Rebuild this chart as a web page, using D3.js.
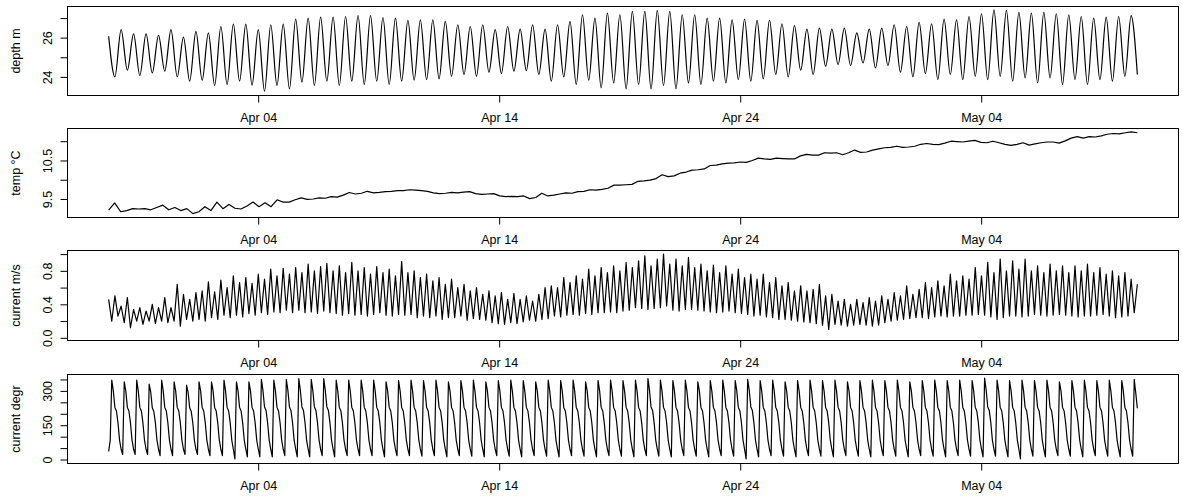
<!DOCTYPE html>
<html><head><meta charset="utf-8">
<script src="https://cdn.jsdelivr.net/npm/d3@7"></script>
<style>
body{margin:0;background:#fff}
svg{display:block}
text{font-family:"Liberation Sans",Arial,sans-serif}
</style>
</head><body>
<svg id="c" width="1182" height="497"></svg>
<script>
// ---------------- DATA ----------------
const dataStart = "2010-03-28T19:06:00Z";
const dataEnd   = "2010-05-10T11:30:00Z";
const xTickDates = ["2010-04-04","2010-04-14","2010-04-24","2010-05-04"];
const panelTitles = ["depth m","temp \u00B0C","current m/s","current degr"];

// depth: first value, then alternating low / high water (every ~6.2 h)
const depthFirst = 26.07;
const depthLow = [24.0,24.34,24.07,24.2,24.29,24.0,23.78,23.83,23.56,23.61,23.78,23.58,23.27,23.56,23.39,23.73,23.56,23.78,23.56,23.78,23.61,23.78,
 23.61,23.78,23.83,23.86,23.9,24.03,24.12,24.03,24.24,24.17,24.29,24.32,24.12,23.78,24.0,23.61,23.83,23.44,23.69,23.39,23.61,23.39,23.56,23.39,23.69,23.61,23.78,23.69,23.86,23.78,23.9,
 24.12,24.0,24.34,24.12,24.54,24.63,24.58,24.71,24.46,24.58,24.24,24.0,24.17,23.86,24.12,23.86,24.03,23.86,24.03,23.78,23.95,23.69,23.95,23.61,23.86,23.61,23.86,23.78,24.03,24.12];
const depthHigh = [26.41,26.19,26.19,26.12,26.41,26.03,26.32,26.24,26.57,26.69,26.69,26.41,26.66,26.69,26.95,27.0,27.05,27.05,27.08,27.13,27.12,27.03,
 27.0,26.88,26.91,26.91,26.83,26.66,26.57,26.66,26.41,26.57,26.44,26.66,26.44,26.66,26.83,27.17,27.0,27.25,27.17,27.34,27.34,27.39,27.34,27.17,27.17,27.0,27.0,26.91,26.95,26.88,26.9,
 26.71,26.61,26.44,26.49,26.44,26.49,26.24,26.44,26.49,26.66,26.57,26.78,26.71,26.95,26.91,27.08,27.22,27.42,27.39,27.29,27.25,27.29,27.22,27.17,27.08,27.0,27.05,27.08,27.12];

// temperature every 6 h
const tempValues = [9.21,9.40,9.17,9.2,9.25,9.24,9.25,9.22,9.28,9.34,9.22,9.28,9.2,9.25,9.12,9.17,9.3,9.2,9.42,9.25,
 9.36,9.26,9.24,9.32,9.42,9.3,9.4,9.3,9.48,9.42,9.42,9.48,9.53,9.49,9.5,9.53,9.52,9.56,9.55,9.6,
 9.67,9.63,9.65,9.7,9.66,9.67,9.69,9.7,9.72,9.72,9.74,9.73,9.72,9.7,9.66,9.64,9.65,9.67,9.66,9.68,
 9.69,9.64,9.62,9.63,9.64,9.58,9.56,9.57,9.56,9.58,9.51,9.54,9.65,9.58,9.6,9.63,9.66,9.65,9.69,9.7,
 9.74,9.73,9.75,9.78,9.86,9.86,9.87,9.88,9.96,9.97,9.99,10.03,10.13,10.08,10.1,10.17,10.2,10.25,10.26,10.28,
 10.37,10.38,10.41,10.43,10.44,10.46,10.45,10.5,10.56,10.54,10.53,10.56,10.55,10.54,10.54,10.62,10.66,10.64,10.64,10.7,
 10.69,10.7,10.65,10.7,10.77,10.71,10.72,10.77,10.8,10.83,10.84,10.87,10.84,10.85,10.87,10.92,10.94,10.92,10.91,10.95,
 11.0,10.99,10.98,11.0,11.02,10.97,10.96,11.0,10.96,10.92,10.89,10.92,10.96,10.9,10.93,10.96,10.98,10.98,10.95,11.01,
 11.08,11.12,11.08,11.12,11.11,11.14,11.18,11.2,11.19,11.22,11.24,11.22];

// current speed: alternating peaks and troughs (~3.1 h apart)
const speedPeak = [0.46,0.5,0.38,0.48,0.34,0.36,0.32,0.4,0.36,0.48,
 0.36,0.64,0.52,0.46,0.54,0.56,0.67,0.55,0.69,0.6,
 0.74,0.66,0.72,0.65,0.76,0.7,0.82,0.74,0.83,0.76,
 0.84,0.78,0.88,0.8,0.85,0.89,0.8,0.86,0.78,0.9,
 0.8,0.84,0.76,0.85,0.78,0.82,0.74,0.91,0.78,0.8,
 0.72,0.76,0.68,0.72,0.64,0.7,0.6,0.64,0.56,0.6,
 0.52,0.56,0.5,0.54,0.46,0.53,0.46,0.5,0.44,0.52,
 0.6,0.62,0.6,0.72,0.66,0.74,0.7,0.82,0.74,0.84,
 0.78,0.86,0.8,0.9,0.84,0.92,0.98,0.86,0.94,1.0,
 0.88,0.94,0.86,0.96,0.84,0.88,0.8,0.87,0.78,0.86,
 0.76,0.82,0.72,0.76,0.7,0.76,0.66,0.72,0.62,0.66,
 0.56,0.62,0.56,0.58,0.64,0.5,0.52,0.44,0.46,0.4,
 0.46,0.42,0.48,0.44,0.5,0.46,0.54,0.5,0.62,0.52,
 0.58,0.66,0.6,0.68,0.62,0.76,0.68,0.74,0.7,0.84,
 0.74,0.9,0.78,0.94,0.8,0.92,0.82,0.94,0.8,0.86,
 0.78,0.88,0.8,0.86,0.78,0.86,0.8,0.88,0.78,0.84,
 0.76,0.8,0.74,0.78,0.7,0.64];
const speedTrough = [0.2,0.26,0.18,0.12,0.2,0.16,0.2,0.17,0.2,0.18,
 0.2,0.14,0.22,0.2,0.22,0.2,0.24,0.22,0.27,0.24,
 0.27,0.25,0.29,0.27,0.3,0.28,0.31,0.3,0.33,0.3,
 0.33,0.3,0.31,0.29,0.32,0.3,0.29,0.27,0.29,0.27,
 0.28,0.26,0.28,0.3,0.27,0.26,0.28,0.27,0.28,0.24,
 0.26,0.24,0.26,0.22,0.24,0.24,0.26,0.21,0.23,0.22,
 0.21,0.18,0.17,0.16,0.18,0.17,0.19,0.21,0.2,0.22,
 0.23,0.26,0.25,0.27,0.28,0.27,0.29,0.28,0.3,0.3,
 0.31,0.3,0.32,0.33,0.36,0.35,0.34,0.35,0.36,0.38,
 0.33,0.32,0.34,0.34,0.33,0.32,0.31,0.3,0.31,0.32,
 0.3,0.29,0.28,0.26,0.27,0.25,0.24,0.22,0.22,0.21,
 0.2,0.19,0.18,0.17,0.15,0.1,0.16,0.15,0.14,0.15,
 0.16,0.15,0.14,0.15,0.18,0.2,0.21,0.22,0.23,0.24,
 0.24,0.23,0.25,0.26,0.25,0.26,0.26,0.27,0.27,0.28,
 0.27,0.25,0.22,0.24,0.26,0.26,0.25,0.26,0.28,0.27,
 0.26,0.27,0.28,0.27,0.26,0.25,0.26,0.26,0.27,0.28,
 0.26,0.24,0.25,0.26,0.3];

// current direction: two leading samples, then one row per tidal cycle (8 samples each)
const dirLead = [35,84];
const dirCycles = [
[347,300,228,212,160,85,45,22],[340,300,228,212,160,85,45,22],[347,300,228,212,160,85,45,22],[330,295,226,210,160,85,45,17],
[347,300,228,212,160,85,45,17],[340,300,228,212,160,85,45,22],[325,292,226,210,160,85,45,22],[340,300,228,212,160,85,45,17],
[340,300,228,212,160,85,45,17],[347,300,228,212,160,85,45,3],[340,300,228,212,160,85,45,12],[340,300,228,212,160,85,45,12],
[350,302,230,214,160,85,45,12],[347,300,228,212,160,85,45,17],[350,302,230,214,160,85,45,12],[354,302,230,214,160,85,45,12],
[350,302,230,214,160,85,45,17],[354,302,230,214,160,85,45,12],[347,300,228,212,160,85,45,17],[347,300,228,212,160,85,45,17],
[347,300,228,212,160,85,45,17],[347,300,228,212,160,85,45,12],[340,300,228,212,160,85,45,17],[345,300,228,212,160,85,45,17],
[347,300,228,212,160,85,45,15],[345,300,228,212,160,85,45,17],[347,300,228,212,160,85,45,12],[340,300,228,212,160,85,45,17],
[345,300,228,212,160,85,45,15],[347,300,228,212,160,85,45,12],[340,300,228,212,160,85,45,17],[345,300,228,212,160,85,45,15],
[347,300,228,212,160,85,45,12],[345,300,228,212,160,85,45,17],[340,300,228,212,160,85,45,15],[347,300,228,212,160,85,45,12],
[345,300,228,212,160,85,45,17],[347,300,228,212,160,85,45,15],[340,300,228,212,160,85,45,12],[345,300,228,212,160,85,45,17],
[347,300,228,212,160,85,45,15],[345,300,228,212,160,85,45,12],[347,300,228,212,160,85,45,17],[354,302,230,214,160,85,45,15],
[347,300,228,212,160,85,45,12],[345,300,228,212,160,85,45,17],[347,300,228,212,160,85,45,15],[340,300,228,212,160,85,45,12],
[345,300,228,212,160,85,45,17],[347,300,228,212,160,85,45,15],[345,300,228,212,160,85,45,3],[350,302,230,214,160,85,45,12],
[345,300,228,212,160,85,45,17],[347,300,228,212,160,85,45,15],[340,300,228,212,160,85,45,12],[345,300,228,212,160,85,45,17],
[347,300,228,212,160,85,45,15],[345,300,228,212,160,85,45,12],[347,300,228,212,160,85,45,17],[340,300,228,212,160,85,45,15],
[345,300,228,212,160,85,45,12],[347,300,228,212,160,85,45,17],[345,300,228,212,160,85,45,15],[347,300,228,212,160,85,45,12],
[340,300,228,212,160,85,45,17],[345,300,228,212,160,85,45,15],[347,300,228,212,160,85,45,12],[345,300,228,212,160,85,45,17],
[347,300,228,212,160,85,45,15],[345,300,228,212,160,85,45,12],[356,304,230,214,160,85,45,15],[347,300,228,212,160,85,45,12],
[345,300,228,212,160,85,45,3],[347,300,228,212,160,85,45,15],[345,300,228,212,160,85,45,12],[347,300,228,212,160,85,45,17],
[340,300,228,212,160,85,45,15],[345,300,228,212,160,85,45,12],[347,300,228,212,160,85,45,17],[345,300,228,212,160,85,45,15],
[347,300,228,212,160,85,45,12],[345,300,228,212,160,85,45,15],[350,290,224]];

// axis ticks / labels
const yTickValues = [[24,25,26,27],[9.5,10,10.5,11],[0,0.2,0.4,0.6,0.8,1.0],[0,50,100,150,200,250,300,350]];
const yTickLabels = [[24,26],[9.5,10.5],[0,0.4,0.8],[0,150,300]];
const yTickFormats = ["d",".1f",".1f","d"];
const yDomains = [[23.05,27.59],[9.02,11.33],[-0.032,1.043],[-17.3,371.7]];

// ---------------- BUILD SERIES ----------------
const t0 = new Date(dataStart), t1 = new Date(dataEnd);
function timesFor(n){ const step=(t1-t0)/(n-1); return d3.range(n).map(i=>new Date(+t0+i*step)); }

const depthSeries=[depthFirst];
depthLow.forEach((v,i)=>{ depthSeries.push(v); if(i<depthHigh.length) depthSeries.push(depthHigh[i]); });
const speedSeries=[];
speedPeak.forEach((v,i)=>{ speedSeries.push(v); if(i<speedTrough.length) speedSeries.push(speedTrough[i]); });
const dirSeries = dirLead.concat(dirCycles.flat());

const seriesList = [depthSeries,tempValues,speedSeries,dirSeries];
const curves = [d3.curveMonotoneX,d3.curveLinear,d3.curveLinear,d3.curveLinear];

// ---------------- LAYOUT ----------------
const svg=d3.select("#c");
const plotLeft=67.5, plotRight=1178.5;
const boxes=[[6.5,95.5],[128.5,217.5],[250.5,340.5],[374.5,463.5]];
const pad=(t1-t0)*0.04;
const x=d3.scaleUtc().domain([new Date(+t0-pad),new Date(+t1+pad)]).range([plotLeft,plotRight]);
const fontSize=12.5;

seriesList.forEach((vals,p)=>{
  const [top,bot]=boxes[p];
  const y=d3.scaleLinear().domain(yDomains[p]).range([bot,top]);
  const g=svg.append("g");
  const ts=timesFor(vals.length);
  const pts=vals.map((v,i)=>[ts[i],v]);
  g.append("path").datum(pts)
    .attr("d",d3.line().x(d=>x(d[0])).y(d=>y(d[1])).curve(curves[p]))
    .attr("fill","none").attr("stroke","#000").attr("stroke-width",1.2).attr("stroke-linejoin","round");
  g.append("rect").attr("x",plotLeft).attr("y",top).attr("width",plotRight-plotLeft).attr("height",bot-top)
    .attr("fill","none").attr("stroke","#000").attr("stroke-width",1);

  // y axis
  const fmt=d3.format(yTickFormats[p]);
  const ya=g.append("g").attr("transform",`translate(${plotLeft},0)`)
    .call(d3.axisLeft(y).tickValues(yTickValues[p]).tickSize(7)
      .tickFormat(d=>yTickLabels[p].some(l=>Math.abs(l-d)<1e-9)?fmt(d):""));
  ya.select(".domain").remove();
  ya.selectAll(".tick line").attr("stroke","#000");
  ya.selectAll(".tick text").attr("transform","rotate(-90)").attr("x",0).attr("y",-15.5).attr("dy",0)
    .attr("text-anchor","middle").attr("font-size",fontSize).attr("fill","#000")
    .style("font-family",'"Liberation Sans",Arial,sans-serif');

  // x axis
  const xa=g.append("g").attr("transform",`translate(0,${bot})`)
    .call(d3.axisBottom(x).tickValues(xTickDates.map(s=>new Date(s+"T00:00:00Z"))).tickSize(7).tickPadding(10.3)
      .tickFormat(d3.utcFormat("%b %d")));
  xa.select(".domain").remove();
  xa.selectAll(".tick line").attr("stroke","#000");
  xa.selectAll(".tick text").attr("font-size",fontSize).attr("fill","#000")
    .style("font-family",'"Liberation Sans",Arial,sans-serif');

  // title
  g.append("text").attr("transform",`translate(20,${(top+bot)/2}) rotate(-90)`)
    .attr("text-anchor","middle").attr("font-size",fontSize).attr("fill","#000")
    .text(panelTitles[p]);
});
</script>
</body></html>
